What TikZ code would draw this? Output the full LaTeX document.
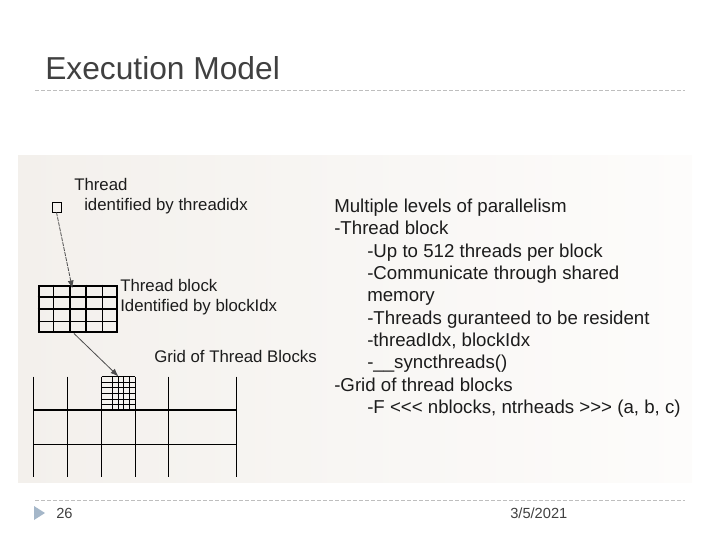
\documentclass[tikz,border=0pt]{standalone}
\usepackage{fontspec}
\setmainfont{Liberation Sans}
\newfontfamily\plainsans{Liberation Sans}
\usetikzlibrary{arrows.meta,calc}
\definecolor{titlegray}{RGB}{64,64,64}
\definecolor{rulegray}{RGB}{190,190,190}
\definecolor{panelleft}{RGB}{243,240,236}
\definecolor{panelright}{RGB}{253,252,251}
\definecolor{bulletblue}{RGB}{165,183,201}
\definecolor{ink}{RGB}{28,28,28}

\begin{document}
\begin{tikzpicture}[x=0.75pt, y=-0.75pt,
    txt/.style={anchor=base west, inner sep=0, text=ink, font=\plainsans\fontsize{14}{16}\selectfont},
    lbl/.style={anchor=base west, inner sep=0, text=ink, font=\fontsize{12.6}{15}\selectfont},
    foot/.style={anchor=base west, inner sep=0, text=titlegray, font=\fontsize{11}{13}\selectfont},
    rule/.style={rulegray, line width=0.75pt, dash pattern=on 3pt off 1.5pt},
    cell/.style={line width=1.1pt},
    fine/.style={line width=0.7pt},
    arrow/.style={-{Latex[length=6pt,width=4.5pt]}, line width=0.6pt, black!70}
]
\useasboundingbox (0,0) rectangle (720,540);

% slide frame
\node[anchor=base west, inner sep=0, text=titlegray, font=\fontsize{23.8}{28}\selectfont] (title) at (45,79) {Execution Model};
\draw[rule] (35,90) -- (685,90);
\draw[rule] (35,500) -- (685,500);
\fill[bulletblue] (34,506) -- (45,513) -- (34,520) -- cycle;
\node[foot] (page) at (56,518) {26};
\node[foot] (date) at (510,518) {3/5/2021};

% picture panel
\shade[left color=panelleft, right color=panelright] (18,155) rectangle (692,482);

% thread
\node[draw, fine, minimum width=6.75pt, minimum height=7.5pt, inner sep=0] (thread) at (56.5,207) {};
\node[lbl] (threadlbl) at (74,190) {Thread};
\node[lbl] (threadid) at (84,210) {identified by threadidx};

% thread block
\node[draw, line width=2.2pt, minimum width=58.5pt, minimum height=34.5pt, inner sep=0] (tblock) at (78,309) {};
\foreach \i in {1,...,4}
  \draw[cell] ($(tblock.north west)!\i/5!(tblock.north east)$) -- ($(tblock.south west)!\i/5!(tblock.south east)$);
\foreach \j in {1,2,3}
  \draw[cell] ($(tblock.north west)!\j/4!(tblock.south west)$) -- ($(tblock.north east)!\j/4!(tblock.south east)$);
\node[lbl] (blocklbl) at (120,291.7) {Thread block};
\node[lbl] (blockid) at (120,311.7) {Identified by blockIdx};

% grid of thread blocks
\node[lbl] (gridlbl) at (154,362.3) {Grid of Thread Blocks};
\foreach \x in {33.3,67.7,101.7,135.3,168.3,236.7}
  \draw[cell] (\x,376.7) -- (\x,476.7);
\foreach \y in {410,444.3}
  \draw[cell] (33.3,\y) -- (236.7,\y);
\node[minimum width=25.2pt, minimum height=25pt, inner sep=0] (subblk) at (118.5,393.4) {};
\foreach \x in {112.5,118.2,123.8,129.4}
  \draw[fine] (\x,376.7) -- (\x,410);
\foreach \y in {376.7,382.3,387.9,393.4,399,404.5}
  \draw[fine] (101.7,\y) -- (135.3,\y);

% connectors
\coordinate (blocktop) at ($(tblock.north west)!0.43!(tblock.north east)$);
\coordinate (blockfoot) at ($(tblock.south west)!0.45!(tblock.south east)$);
\draw[arrow, dash pattern=on 3pt off 0.8pt] (thread.south) -- ([yshift=-3pt]blocktop);
\draw[arrow] (blockfoot) -- (subblk.north);

% notes
\node[txt] (levels) at (334,212.3) {Multiple levels of parallelism};
\node[txt] (tblk) at (334,234.7) {-Thread block};
\node[txt] (upto) at (367,257.0) {-Up to 512 threads per block};
\node[txt] (comm) at (367,279.4) {-Communicate through shared};
\node[txt] (mem) at (367,301.7) {memory};
\node[txt] (resident) at (367,324.1) {-Threads guranteed to be resident};
\node[txt] (idx) at (367,346.4) {-threadIdx, blockIdx};
\node[txt] (sync) at (367,368.8) {-\_\_syncthreads()};
\node[txt] (gridof) at (334,391.1) {-Grid of thread blocks};
\node[txt] (launch) at (367,413.5) {-F <<< nblocks, ntrheads >>> (a, b, c)};
\end{tikzpicture}
\end{document}
